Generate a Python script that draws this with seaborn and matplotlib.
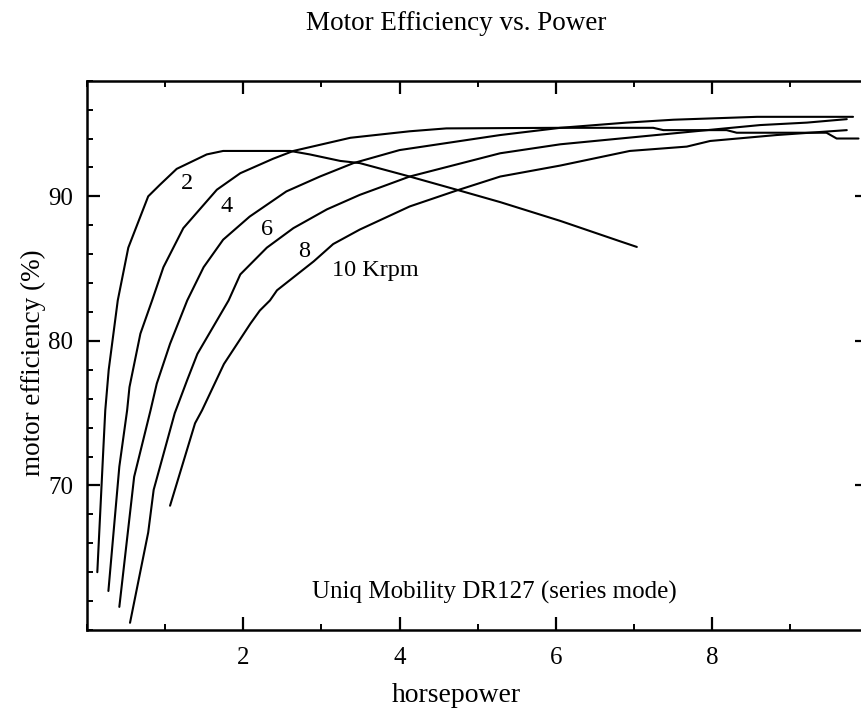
import matplotlib
matplotlib.use('Agg')
import matplotlib.pyplot as plt
import pandas as pd
import seaborn as sns
from matplotlib.ticker import MultipleLocator

# curves (horsepower, efficiency %)
hp_2 = [0.128, 0.205, 0.23, 0.274, 0.39, 0.525, 0.78, 0.93, 1.145, 1.53, 1.74, 2.08, 2.6,
        2.85, 3.24, 3.49, 4.13, 4.73, 5.29, 6.06, 6.44, 6.82, 7.04]
eff_2 = [64.0, 72.5, 75.2, 78.0, 82.8, 86.45, 90.0, 90.8, 91.9, 92.9, 93.14, 93.14, 93.14,
         92.9, 92.45, 92.3, 91.37, 90.46, 89.6, 88.3, 87.6, 86.9, 86.5]

hp_4 = [0.27, 0.41, 0.51, 0.54, 0.68, 0.83, 0.975, 1.23, 1.66, 1.96, 2.38, 2.64, 3.37,
        4.13, 4.6, 6.06, 7.25, 7.38, 8.19, 8.32, 9.47, 9.6, 9.88]
eff_4 = [62.7, 71.3, 75.2, 76.8, 80.5, 82.8, 85.1, 87.8, 90.46, 91.6, 92.6, 93.14, 94.05,
         94.5, 94.7, 94.74, 94.74, 94.58, 94.58, 94.4, 94.4, 94.0, 94.0]

hp_6 = [0.41, 0.6, 0.81, 0.89, 1.06, 1.28, 1.49, 1.74, 2.08, 2.55, 2.98, 3.41, 4.0,
        5.29, 6.06, 6.91, 7.51, 8.58, 9.81]
eff_6 = [61.6, 70.6, 75.2, 77.05, 79.8, 82.8, 85.1, 87.0, 88.6, 90.34, 91.37, 92.3, 93.2,
         94.24, 94.74, 95.1, 95.3, 95.5, 95.5]

hp_8 = [0.547, 0.78, 0.85, 1.12, 1.28, 1.41, 1.81, 1.96, 2.3, 2.64, 3.07, 3.49, 4.13,
        5.29, 6.06, 7.94, 8.62, 9.22, 9.73]
eff_8 = [60.5, 66.75, 69.7, 75.0, 77.3, 79.1, 82.8, 84.6, 86.45, 87.8, 89.1, 90.1, 91.37,
         92.98, 93.6, 94.58, 94.93, 95.1, 95.34]

hp_10 = [1.06, 1.38, 1.47, 1.75, 2.09, 2.21, 2.34, 2.43, 2.9, 3.15, 3.49, 4.13, 4.73,
         5.29, 6.06, 6.95, 7.68, 7.98, 8.83, 9.73]
eff_10 = [68.6, 74.3, 75.2, 78.4, 81.2, 82.1, 82.8, 83.5, 85.5, 86.7, 87.7, 89.3, 90.4,
          91.37, 92.13, 93.14, 93.44, 93.83, 94.24, 94.58]

speeds = ['2', '4', '6', '8', '10']
curve_labels = ['2', '4', '6', '8', '10 Krpm']
label_x = [1.277, 1.786, 2.30, 2.78, 3.13]
label_y = [90.9, 89.27, 87.7, 86.2, 84.9]

frames = []
for s, hp, eff in zip(speeds, [hp_2, hp_4, hp_6, hp_8, hp_10],
                      [eff_2, eff_4, eff_6, eff_8, eff_10]):
    frames.append(pd.DataFrame({'hp': hp, 'eff': eff, 'krpm': s}))
df = pd.concat(frames, ignore_index=True)

sns.set_style('ticks')
plt.rcParams['font.family'] = ['Liberation Serif', 'DejaVu Serif']
plt.rcParams['text.color'] = 'black'
plt.rcParams['axes.labelcolor'] = 'black'

fig = plt.figure(figsize=(8.62, 7.23), dpi=100)
# right spine (x=10) falls just past the right edge, as in the original
ax = fig.add_axes([0.1013, 0.1286, 0.9055, 0.7598])

sns.lineplot(data=df, x='hp', y='eff', hue='krpm', units='krpm', estimator=None,
             palette=['black'] * 5, linewidth=1.5, legend=False, ax=ax)

ax.set_xlim(0, 10)
ax.set_ylim(60, 98)
ax.xaxis.set_minor_locator(MultipleLocator(1))
ax.yaxis.set_minor_locator(MultipleLocator(2))
ax.set_xticks([2, 4, 6, 8])
ax.set_yticks([70, 80, 90])
ax.tick_params(which='both', direction='in', top=True, right=True, colors='black')
ax.tick_params(which='major', length=9.5, width=1.6, labelsize=18, pad=10)
ax.tick_params(which='minor', length=4.3, width=1.4)
ax.tick_params(axis='x', which='major', pad=12)
for sp in ax.spines.values():
    sp.set_linewidth(1.8)
    sp.set_color('black')
ax.set_xlabel('')
ax.set_ylabel('')

for t, lx, ly in zip(curve_labels, label_x, label_y):
    ha = 'left' if 'Krpm' in t else 'center'
    ax.text(lx, ly, t, fontsize=17.5, ha=ha, va='center', color='black')

ax.text(5.22, 62.6, 'Uniq Mobility DR127 (series mode)', fontsize=18,
        ha='center', va='center', color='black')

fig.text(0.529, 1 - 30 / 723, 'Motor Efficiency vs. Power', fontsize=19.5,
         ha='center', va='baseline', color='black')
fig.text(0.529, 0.038, 'horsepower', fontsize=20, ha='center', va='center',
         color='black')
fig.text(33 / 862, 1 - 363 / 723, 'motor efficiency (%)', fontsize=19.5,
         rotation=90, ha='center', va='center', color='black')

fig.savefig('out.png', dpi=100)
